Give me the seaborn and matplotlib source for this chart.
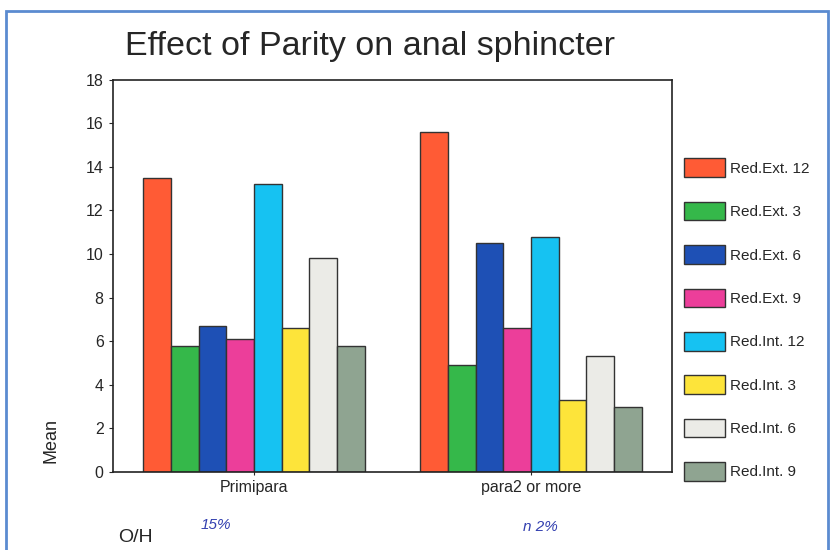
import pandas as pd
import seaborn as sns
import matplotlib.pyplot as plt
from matplotlib.patches import Rectangle

# mean values
groups = ["Primipara", "para2 or more"]
series = ["Red.Ext. 12", "Red.Ext. 3", "Red.Ext. 6", "Red.Ext. 9",
          "Red.Int. 12", "Red.Int. 3", "Red.Int. 6", "Red.Int. 9"]
primipara = [13.5, 5.8, 6.7, 6.1, 13.2, 6.6, 9.8, 5.8]
para2_or_more = [15.6, 4.9, 10.5, 6.6, 10.8, 3.3, 5.3, 3.0]
colors = ["#FF5B35", "#35B84A", "#1E50B5", "#EC3E9A",
          "#16C2F2", "#FDE43A", "#EBEBE7", "#8FA491"]

df = pd.DataFrame({
    "group": [groups[0]] * len(series) + [groups[1]] * len(series),
    "series": series * 2,
    "mean": primipara + para2_or_more,
})

sns.set_style("white")
plt.rcParams["font.family"] = ["Liberation Sans", "DejaVu Sans"]

fig = plt.figure(figsize=(8.35, 5.5), dpi=100)
ax = fig.add_axes([0.135, 0.142, 0.67, 0.713])

sns.barplot(data=df, x="group", y="mean", hue="series", hue_order=series,
            palette=colors, width=0.8, edgecolor="#333333", linewidth=1.0,
            saturation=1, ax=ax)

ax.set_ylim(0, 18)
ax.set_xlim(-0.51, 1.51)
ax.set_yticks(range(0, 19, 2))
ax.tick_params(axis="y", labelsize=11.5, length=3, direction="out", left=True)
ax.tick_params(axis="x", labelsize=11.5, length=4, direction="inout", bottom=True)
ax.set_xlabel("")
ax.set_ylabel("Mean", fontsize=13)
ax.yaxis.set_label_coords(-0.095, 0.08)
for s in ax.spines.values():
    s.set_color("#222222")
    s.set_linewidth(1.2)

ax.legend(loc="upper left", bbox_to_anchor=(1.01, 0.815), frameon=False,
          fontsize=11, handlelength=2.7, handleheight=1.5,
          labelspacing=1.62, handletextpad=0.3, borderaxespad=0)

fig.text(0.443, 0.916, "Effect of Parity on anal sphincter", fontsize=24.5,
         ha="center", va="center")
fig.text(0.142, 0.023, "O/H", fontsize=14, ha="left", va="center")
fig.text(0.258, 0.045, "15%", fontsize=11, color="#3340B0", style="italic",
         ha="center", va="center")
fig.text(0.647, 0.042, "n 2%", fontsize=11, color="#3340B0", style="italic",
         ha="center", va="center")

# blue frame around the picture
fig.patches.append(Rectangle((0.007, -0.01), 0.985, 0.99, transform=fig.transFigure,
                             fill=False, edgecolor="#5B8BD0", linewidth=2))

fig.savefig("out.png", dpi=100)
